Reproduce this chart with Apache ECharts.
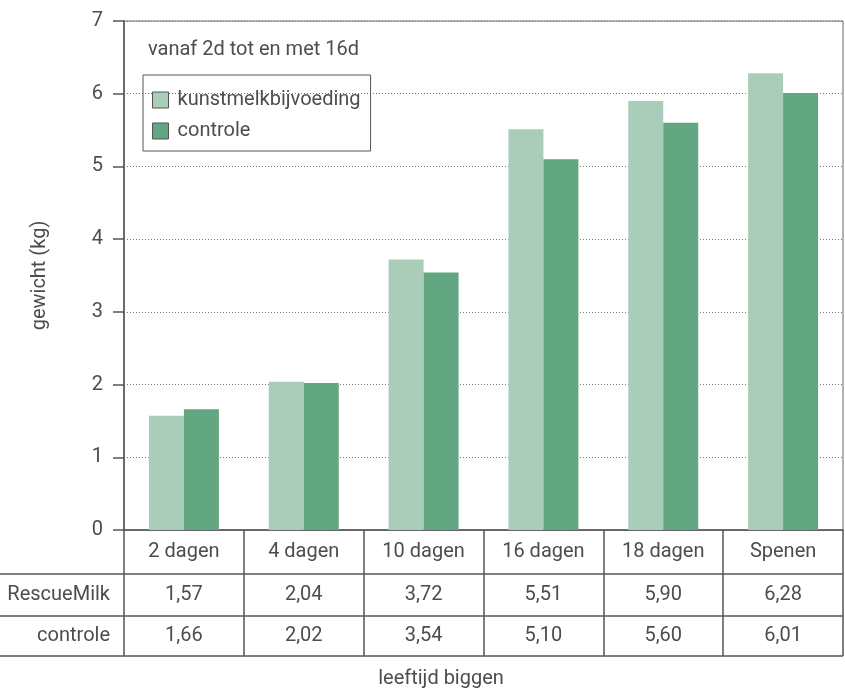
<!DOCTYPE html>
<html><head><meta charset="utf-8">
<script src="https://cdn.jsdelivr.net/npm/echarts@6/dist/echarts.min.js"></script>
<style>html,body{margin:0;padding:0;background:#fff}#c{width:845px;height:690px}</style>
</head><body><div id="c"></div>
<script>
const categories = ['2 dagen','4 dagen','10 dagen','16 dagen','18 dagen','Spenen'];
const seriesNames = ['kunstmelkbijvoeding','controle'];
const rowLabels = ['RescueMilk','controle'];
const rescueMilk = [1.57, 2.04, 3.72, 5.51, 5.90, 6.28];
const controle = [1.66, 2.02, 3.54, 5.10, 5.60, 6.01];
const yTicks = [0,1,2,3,4,5,6,7];

const FONT = 'Roboto';
const FS = 20;
const TXT = '#4d4d4d';
const LINE = '#555';
const fmt = v => v.toFixed(2).replace('.', ',');

const chart = echarts.init(document.getElementById('c'), null, {renderer:'canvas'});
const gridLeft = 124, gridRight = 2, gridTop = 21, gridBottom = 160;
const rowH = [44, 42, 40];

function tableAxis(data, margin) {
  return {
    type:'category', data:data, gridIndex:0, position:'bottom',
    axisLine:{show:false}, axisTick:{show:false}, splitLine:{show:false},
    axisLabel:{margin:margin, verticalAlign:'middle', color:TXT, fontFamily:FONT, fontSize:FS, interval:0}
  };
}

chart.setOption({
  animation:false,
  textStyle:{fontFamily:FONT},
  title:{text:'vanaf 2d tot en met 16d', left:143, top:35,
    textStyle:{fontFamily:FONT, fontSize:FS, fontWeight:'normal', color:TXT, lineHeight:20}},
  legend:{
    data:seriesNames, orient:'vertical', left:143, top:75,
    borderColor:LINE, borderWidth:1, borderRadius:0,
    padding:[15,10,10,9], itemGap:11, itemWidth:16, itemHeight:16,
    icon:'rect',
    itemStyle:{borderColor:LINE, borderWidth:1},
    textStyle:{fontFamily:FONT, fontSize:FS, color:TXT, lineHeight:16, padding:[0,0,0,4]}
  },
  grid:{left:gridLeft, right:gridRight, top:gridTop, bottom:gridBottom, show:true, borderColor:'#666', borderWidth:1},
  xAxis:[
    {
      type:'category', data:categories, position:'bottom',
      axisLine:{show:true, lineStyle:{color:LINE, width:1.5}},
      axisTick:{show:true, length:rowH[0]+rowH[1]+rowH[2], inside:false, lineStyle:{color:LINE, width:1.5}},
      axisLabel:{margin:rowH[0]/2, verticalAlign:'middle', color:TXT, fontFamily:FONT, fontSize:FS, interval:0},
      splitLine:{show:false}
    },
    tableAxis(rescueMilk.map(fmt), rowH[0] + rowH[1]/2),
    tableAxis(controle.map(fmt), rowH[0] + rowH[1] + rowH[2]/2)
  ],
  yAxis:{
    type:'value', min:yTicks[0], max:yTicks[yTicks.length-1], interval:1,
    name:'gewicht (kg)', nameLocation:'middle', nameGap:74,
    nameTextStyle:{fontFamily:FONT, fontSize:FS, color:TXT},
    axisLine:{show:true, lineStyle:{color:LINE, width:1.5}},
    axisTick:{show:true, length:11, lineStyle:{color:LINE, width:1.5}},
    axisLabel:{margin:21, color:TXT, fontFamily:FONT, fontSize:FS},
    splitLine:{show:true, lineStyle:{color:'#777', type:[1,2], width:1}}
  },
  graphic:[
    {type:'line', shape:{x1:0, y1:574, x2:843, y2:574}, style:{stroke:LINE, lineWidth:1.5}},
    {type:'line', shape:{x1:0, y1:616, x2:843, y2:616}, style:{stroke:LINE, lineWidth:1.5}},
    {type:'line', shape:{x1:0, y1:656, x2:843, y2:656}, style:{stroke:LINE, lineWidth:1.5}},
    {type:'text', x:110, y:595, style:{text:rowLabels[0], font:FS+'px '+FONT, fill:TXT, textAlign:'right', textVerticalAlign:'middle'}},
    {type:'text', x:110, y:636, style:{text:rowLabels[1], font:FS+'px '+FONT, fill:TXT, textAlign:'right', textVerticalAlign:'middle'}},
    {type:'text', x:441, y:679, style:{text:'leeftijd biggen', font:FS+'px '+FONT, fill:TXT, textAlign:'center', textVerticalAlign:'middle'}}
  ],
  series:[
    {name:seriesNames[0], type:'bar', data:rescueMilk, barGap:'0%', barWidth:35,
     itemStyle:{color:'#aacdb9'}},
    {name:seriesNames[1], type:'bar', data:controle, barGap:'0%', barWidth:35,
     itemStyle:{color:'#62a682'}}
  ]
});
</script></body></html>
